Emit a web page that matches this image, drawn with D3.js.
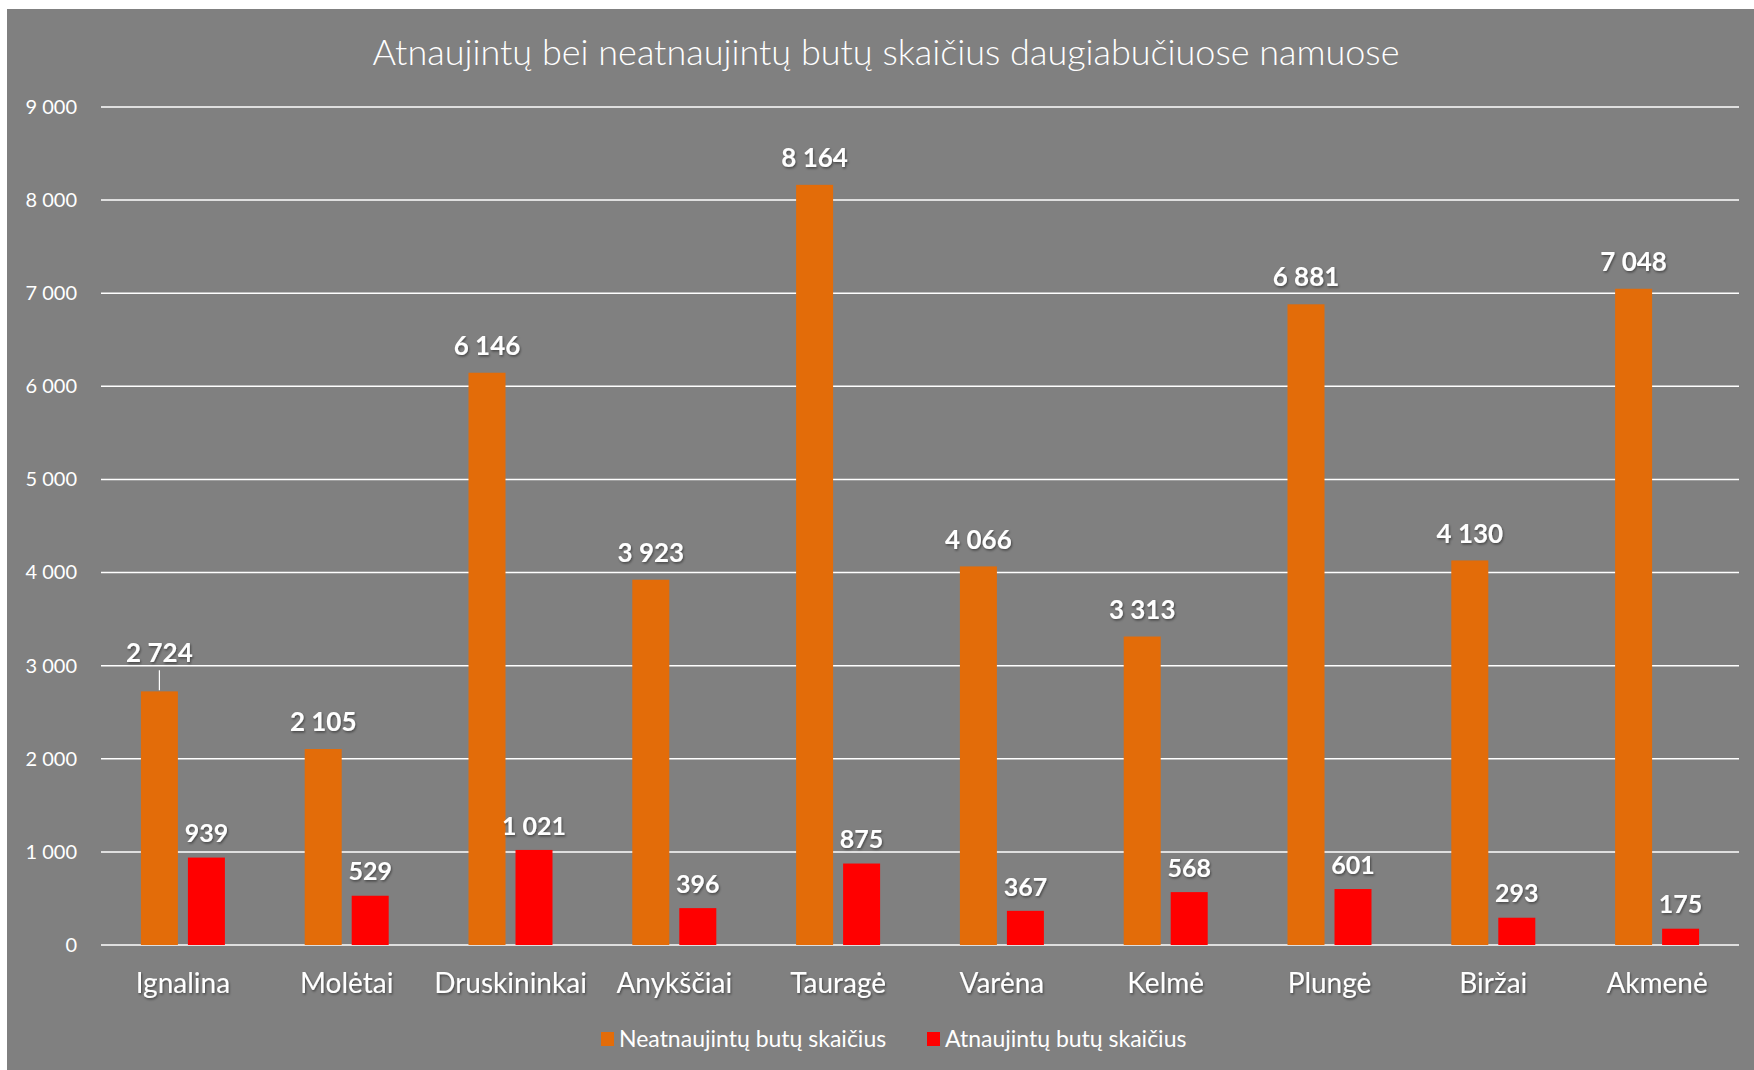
<!DOCTYPE html>
<html>
<head>
<meta charset="utf-8">
<script src="https://cdn.jsdelivr.net/npm/d3@7"></script>
<style>
  html, body { margin: 0; padding: 0; background: #fff; }
  svg { display: block; font-family: Lato, "Open Sans", sans-serif; }
</style>
</head>
<body>
<svg id="chart"></svg>
<script>
const categories = ['Ignalina', 'Molėtai', 'Druskininkai', 'Anykščiai', 'Tauragė',
    'Varėna', 'Kelmė', 'Plungė', 'Biržai', 'Akmenė'];
const notRenovated = [2724, 2105, 6146, 3923, 8164, 4066, 3313, 6881, 4130, 7048];
const renovated = [939, 529, 1021, 396, 875, 367, 568, 601, 293, 175];
const seriesNames = ['Neatnaujintų butų skaičius', 'Atnaujintų butų skaičius'];
const seriesColors = ['#e36c09', '#ff0000'];
const yTicks = [0, 1000, 2000, 3000, 4000, 5000, 6000, 7000, 8000, 9000];
const title = 'Atnaujintų bei neatnaujintų butų skaičius daugiabučiuose namuose';

const W = 1754;
const H = 1070;
const margin = { top: 107, right: 15, bottom: 125, left: 101 };
const barW = 37;
const barGap = 10;

const fmt = d3.formatLocale({ decimal: ',', thousands: ' ', grouping: [3], currency: ['', ''] }).format(',d');

const svg = d3.select('#chart').attr('width', W).attr('height', H);

const defs = svg.append('defs');
const shadow = defs.append('filter').attr('id', 'shadow')
    .attr('x', '-20%').attr('y', '-20%').attr('width', '140%').attr('height', '140%');
shadow.append('feDropShadow')
    .attr('dx', 1).attr('dy', 1.5).attr('stdDeviation', 1)
    .attr('flood-color', '#000').attr('flood-opacity', 0.45);

svg.append('rect')
    .attr('x', 7).attr('y', 9)
    .attr('width', W - 7).attr('height', H - 9)
    .attr('fill', '#808080');

const x = d3.scaleBand()
    .domain(categories)
    .range([margin.left, W - margin.right])
    .paddingInner(0)
    .paddingOuter(0);

const y = d3.scaleLinear()
    .domain([0, 9000])
    .range([H - margin.bottom, margin.top]);

// gridlines
svg.append('g').attr('class', 'grid')
    .selectAll('line').data(yTicks).join('line')
    .attr('x1', margin.left).attr('x2', W - margin.right)
    .attr('y1', d => y(d)).attr('y2', d => y(d))
    .attr('stroke', '#fff').attr('stroke-width', 1.5);

// y labels
const yAxis = d3.axisLeft(y).tickValues(yTicks).tickFormat(fmt).tickSize(0).tickPadding(0);
const gY = svg.append('g').attr('transform', 'translate(77,0)').call(yAxis);
gY.select('.domain').remove();
gY.selectAll('text')
    .attr('fill', '#fff')
    .attr('font-size', 20)
    .attr('font-family', 'Lato, "Open Sans", sans-serif');

// bars
const rows = categories.map((c, i) => ({ c, vals: [notRenovated[i], renovated[i]] }));
const groupW = 2 * barW + barGap;

const groups = svg.append('g').attr('class', 'bars')
    .selectAll('g').data(rows).join('g')
    .attr('transform', d => `translate(${x(d.c) + x.bandwidth() / 2 - groupW / 2},0)`);

groups.selectAll('rect').data(d => d.vals).join('rect')
    .attr('x', (d, i) => i * (barW + barGap))
    .attr('y', d => y(d))
    .attr('width', barW)
    .attr('height', d => y(0) - y(d))
    .attr('fill', (d, i) => seriesColors[i]);

// data labels
groups.each(function(row) {
    const g = d3.select(this);
    row.vals.forEach((v, i) => {
        const cx = i * (barW + barGap) + barW / 2;
        const lift = i === 0 ? 27 : 24;
        const extra = (row.c === 'Ignalina' && i === 0) ? 11 : 0;
        if (extra) {
            g.append('line')
                .attr('x1', cx).attr('x2', cx)
                .attr('y1', y(v) - extra - 10).attr('y2', y(v) - 1)
                .attr('stroke', '#fff').attr('stroke-width', 1.2);
        }
        g.append('text')
            .attr('x', cx)
            .attr('y', y(v) - lift - extra)
            .attr('dy', '0.35em')
            .attr('text-anchor', 'middle')
            .attr('fill', '#fff')
            .attr('font-weight', 'bold')
            .attr('font-size', i === 0 ? 26 : 25)
            .attr('filter', 'url(#shadow)')
            .text(fmt(v));
    });
});

// x labels
const xAxis = d3.axisBottom(x).tickSize(0).tickPadding(0);
const gX = svg.append('g').attr('transform', `translate(0,${y(0) + 38})`).call(xAxis);
gX.select('.domain').remove();
gX.selectAll('text')
    .attr('fill', '#fff')
    .attr('font-size', 28)
    .attr('dy', '0.35em')
    .attr('font-family', 'Lato, "Open Sans", sans-serif')
    .attr('filter', 'url(#shadow)');

// title
svg.append('text')
    .attr('x', 886).attr('y', 52)
    .attr('dy', '0.35em')
    .attr('text-anchor', 'middle')
    .attr('fill', '#fff')
    .attr('font-size', 36)
    .attr('font-weight', 300)
    .text(title);

// legend
const legendItems = [{ name: seriesNames[0], color: seriesColors[0], x: 601 },
    { name: seriesNames[1], color: seriesColors[1], x: 927 }];
const legend = svg.append('g').attr('class', 'legend')
    .selectAll('g').data(legendItems).join('g')
    .attr('transform', d => `translate(${d.x},1039)`);
legend.append('rect')
    .attr('x', 0).attr('y', -7)
    .attr('width', 13).attr('height', 14)
    .attr('fill', d => d.color);
legend.append('text')
    .attr('x', 18).attr('dy', '0.35em')
    .attr('fill', '#fff')
    .attr('font-size', 23)
    .text(d => d.name);
</script>
</body>
</html>
